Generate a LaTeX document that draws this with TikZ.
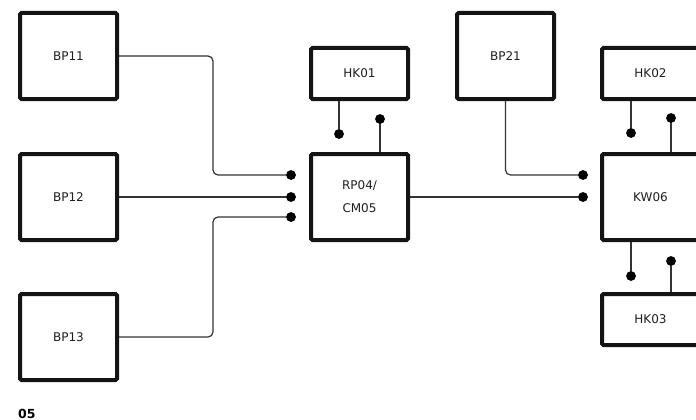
\documentclass[tikz,border=0pt]{standalone}
\usepackage{fontspec}
\setmainfont{DejaVu Sans}
\begin{document}
\begin{tikzpicture}[x=1pt,y=1pt,
  box/.style={draw=black!92, line width=4pt, rounded corners=1.5pt, fill=white,
    minimum width=97pt, minimum height=86pt, inner sep=0pt, text=black!88,
    font=\fontsize{12}{15}\selectfont, align=center},
  hbox/.style={box, minimum height=51pt},
  wire/.style={draw=black!80, line width=1.2pt, rounded corners=5pt},
  pin/.style={fill=black, circle, inner sep=0pt, minimum size=9.5pt}]
\useasboundingbox (0,0) rectangle (696,-420);
\clip (0,0) rectangle (696,-420);
% boxes
\node[box] (bp11) at (68.5,-56) {BP11};
\node[box] (bp12) at (68.5,-197) {BP12};
\node[box] (bp13) at (68.5,-337) {BP13};
\node[hbox] (hk01) at (359.5,-73.5) {HK01};
\node[box] (rp04) at (359.5,-197) {RP04/\\[8pt]CM05};
\node[box] (bp21) at (505.5,-56) {BP21};
\node[hbox] (hk02) at (650.5,-73.5) {HK02};
\node[box] (kw06) at (650.5,-197) {KW06};
\node[hbox] (hk03) at (650.5,-319.5) {HK03};
% pins
\node[pin] (p1) at (291,-175) {};
\node[pin] (p2) at (291,-197) {};
\node[pin] (p3) at (291,-217) {};
\node[pin] (p4) at (339,-134) {};
\node[pin] (p5) at (380,-119) {};
\node[pin] (p6) at (583,-175) {};
\node[pin] (p7) at (583,-197) {};
\node[pin] (p8) at (631,-133) {};
\node[pin] (p9) at (671,-118) {};
\node[pin] (p10) at (631,-276) {};
\node[pin] (p11) at (671,-261) {};
% wires
\draw[wire] (bp11.east) -- (213,-56) -- (213,-175) -- (p1.center);
\draw[wire] (bp12.east) -- (p2.center);
\draw[wire] (bp13.east) -- (213,-337) -- (213,-217) -- (p3.center);
\draw[wire] (hk01.south -| p4) -- (p4.center);
\draw[wire] (rp04.north -| p5) -- (p5.center);
\draw[wire] (bp21.south) -- (505.5,-175) -- (p6.center);
\draw[wire] (rp04.east) -- (p7.center);
\draw[wire] (hk02.south -| p8) -- (p8.center);
\draw[wire] (kw06.north -| p9) -- (p9.center);
\draw[wire] (kw06.south -| p10) -- (p10.center);
\draw[wire] (hk03.north -| p11) -- (p11.center);
% redraw pins on top
\foreach \p in {p1,p2,p3,p4,p5,p6,p7,p8,p9,p10,p11}
  \fill (\p) circle (4.75pt);
\node[anchor=base west, inner sep=0pt, font=\bfseries\fontsize{12.5}{14}\selectfont] (lbl) at (18,-418) {05};
\end{tikzpicture}
\end{document}
